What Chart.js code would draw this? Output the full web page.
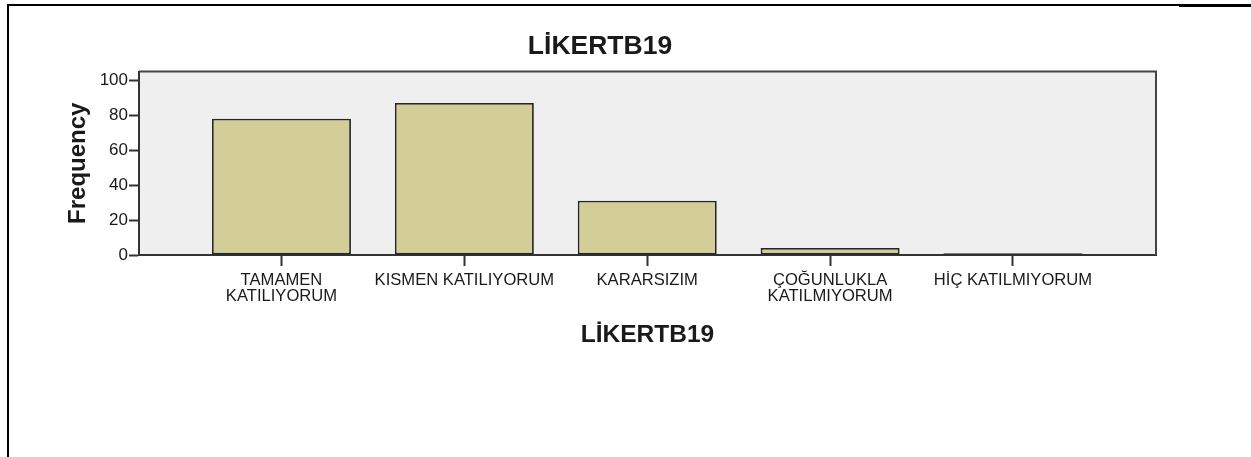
<!DOCTYPE html>
<html>
<head>
<meta charset="utf-8">
<title>LİKERTB19</title>
<script src="https://cdn.jsdelivr.net/npm/chart.js@4/dist/chart.umd.min.js"></script>
<style>
  html, body { margin: 0; padding: 0; background: #fff; }
  body { width: 1251px; height: 457px; position: relative; overflow: hidden; }
  #wrap { position: absolute; left: 0; top: 0; width: 1200px; height: 457px; }
  .frame { position: absolute; background: #000; }
</style>
</head>
<body>
<div id="wrap"><canvas id="chart"></canvas></div>
<div class="frame" style="left:7px; top:4px; width:2px; height:453px;"></div>
<div class="frame" style="left:7px; top:4px; width:1172px; height:2px;"></div>
<div class="frame" style="left:1179px; top:4px; width:72px; height:3px;"></div>
<script>
const chartTitle = 'LİKERTB19';
const categories = [
  ['TAMAMEN', 'KATILIYORUM'],
  'KISMEN KATILIYORUM',
  'KARARSIZIM',
  ['ÇOĞUNLUKLA', 'KATILMIYORUM'],
  'HİÇ KATILMIYORUM'
];
const frequencies = [78, 87, 31, 4, 1];
const yTicks = [0, 20, 40, 60, 80, 100];

const FONT = "'Liberation Sans', Arial, sans-serif";
const INK = '#1a1a1a';

const $ = (id) => document.getElementById(id);

// plot panel: grey fill and dark frame round the chart area
const panel = {
  id: 'panel',
  beforeDraw(chart) {
    const { ctx, chartArea: a } = chart;
    ctx.save();
    ctx.fillStyle = '#efefef';
    ctx.fillRect(a.left, a.top, a.right - a.left, a.bottom - a.top);
    ctx.restore();
  },
  afterDraw(chart) {
    const { ctx, chartArea: a } = chart;
    ctx.save();
    ctx.strokeStyle = '#444';
    ctx.lineWidth = 2;
    ctx.beginPath();
    ctx.moveTo(a.left, a.top);
    ctx.lineTo(a.right, a.top);
    ctx.lineTo(a.right, a.bottom);
    ctx.stroke();
    ctx.restore();
  }
};

new Chart($('chart'), {
  type: 'bar',
  data: {
    datasets: [{
      label: 'Frequency',
      data: frequencies.map((v, i) => ({ x: i + 1, y: v })),
      backgroundColor: '#d3cd97',
      borderColor: '#262626',
      borderWidth: 1.8,
      borderSkipped: false,
      categoryPercentage: 1,
      barPercentage: 0.76
    }]
  },
  options: {
    responsive: true,
    maintainAspectRatio: false,
    animation: false,
    layout: { padding: { left: 44, right: 44, top: 0, bottom: 0 } },
    plugins: {
      legend: { display: false },
      tooltip: { enabled: false },
      title: {
        display: true,
        text: chartTitle,
        color: INK,
        font: { family: FONT, size: 26.5, weight: 'bold', lineHeight: 1 },
        padding: { top: 33, bottom: 12 }
      }
    },
    scales: {
      x: {
        type: 'linear',
        offset: false,
        min: 0.221,
        max: 5.782,
        afterBuildTicks: (scale) => { scale.ticks = categories.map((c, i) => ({ value: i + 1 })); },
        afterFit: (scale) => { scale.height = 202; },
        ticks: {
          autoSkip: false,
          maxRotation: 0,
          minRotation: 0,
          padding: 6,
          color: INK,
          font: { family: FONT, size: 16.6, lineHeight: '16px' },
          callback: (value) => categories[Math.round(value) - 1]
        },
        grid: { offset: false, drawOnChartArea: false, drawTicks: true, tickLength: 11, tickWidth: 2, color: '#333' },
        border: { display: true, color: '#333', width: 2 },
        title: {
          display: true,
          text: chartTitle,
          color: INK,
          font: { family: FONT, size: 24.5, weight: 'bold', lineHeight: 1 },
          padding: { top: 0, bottom: 110 }
        }
      },
      y: {
        min: 0,
        max: 105,
        afterBuildTicks: (scale) => { scale.ticks = yTicks.map(v => ({ value: v })); },
        afterFit: (scale) => { scale.width = 95; },
        ticks: {
          padding: 1,
          color: INK,
          font: { family: FONT, size: 17, lineHeight: 1 }
        },
        grid: { drawOnChartArea: false, drawTicks: true, tickLength: 10, tickWidth: 2, color: '#333' },
        border: { display: true, color: '#333', width: 2 },
        title: {
          display: true,
          text: 'Frequency',
          color: INK,
          font: { family: FONT, size: 24, weight: 'bold', lineHeight: 1 },
          padding: { top: 22, bottom: 0 }
        }
      }
    }
  },
  plugins: [panel]
});
</script>
</body>
</html>
